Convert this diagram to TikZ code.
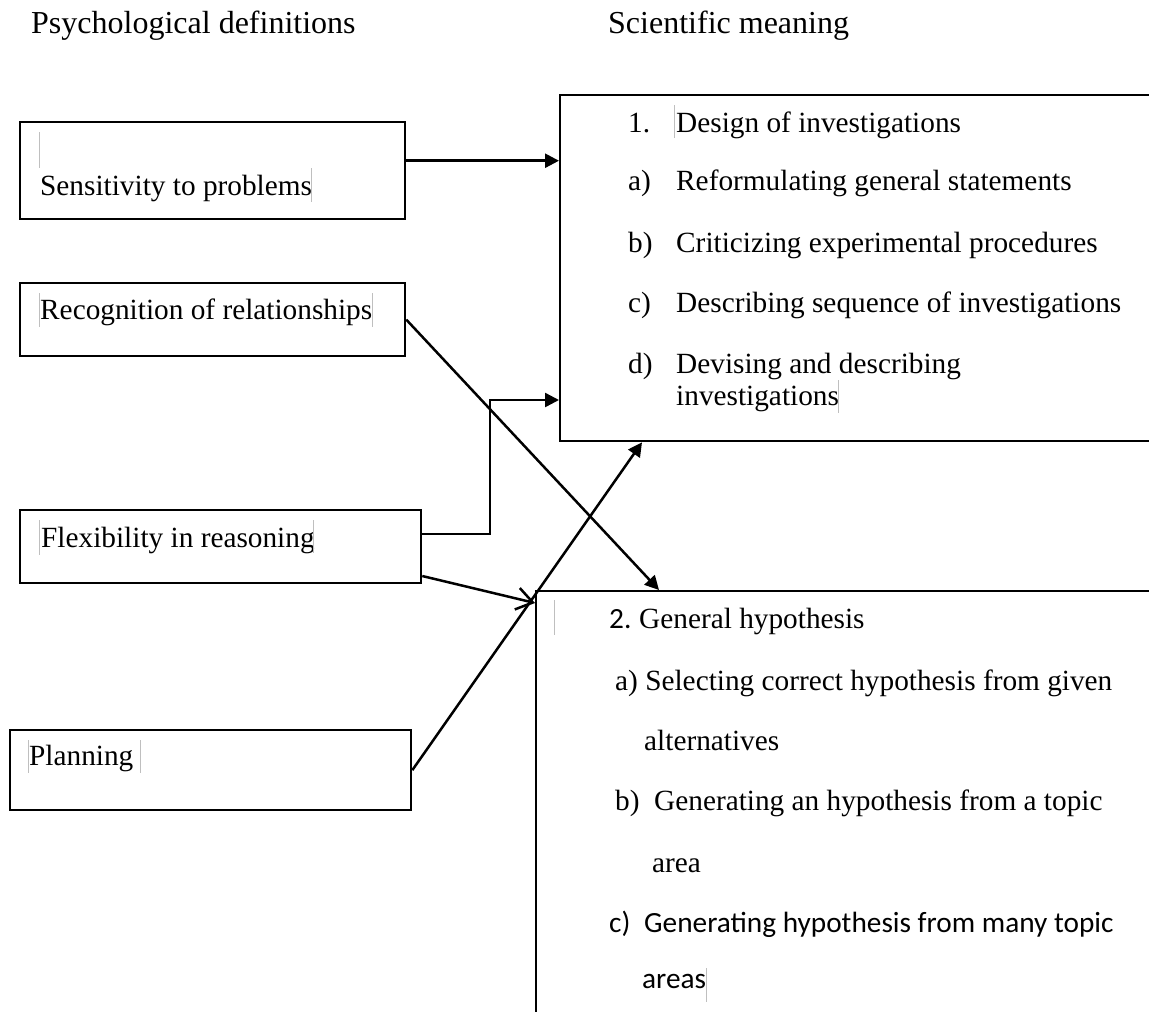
\documentclass[tikz,border=0pt]{standalone}
\usepackage{fontspec}
\setmainfont{Liberation Serif}
\newfontfamily\calibri{Carlito}
\usetikzlibrary{arrows.meta,calc}
\begin{document}
\begin{tikzpicture}[x=1pt,y=-1pt,
  box/.style={draw, line width=2.3pt, rectangle, inner sep=0pt, anchor=north west},
  txt/.style={anchor=base west, inner sep=0pt, font=\fontsize{29.3}{35}\selectfont},
  hdr/.style={anchor=base west, inner sep=0pt, font=\fontsize{32}{38}\selectfont},
  conn/.style={line width=2.5pt, -{Triangle[length=14pt,width=14pt]}},
  openconn/.style={line width=2.5pt, -{Straight Barb[length=16pt,width=22pt]}},
  cursorline/.style={draw=black!25, line width=0.8pt}
]
\useasboundingbox (0,0) rectangle (1149,1012);
\fill[white] (0,0) rectangle (1149,1012);
\clip (0,0) rectangle (1149,1012);

% boxes
\node[box, minimum width=385pt, minimum height=97pt] (s) at (19,121) {};
\node[box, minimum width=385pt, minimum height=73pt] (r) at (19,282) {};
\node[box, minimum width=401pt, minimum height=73pt] (f) at (19,509) {};
\node[box, minimum width=401pt, minimum height=80pt] (p) at (9,729) {};
\node[box, minimum width=700pt, minimum height=346pt] (d1) at (559,94) {};
\node[box, minimum width=700pt, minimum height=500pt] (d2) at (535,590) {};

% headers
\node[hdr] (h1) at (31,33) {Psychological definitions};
\node[hdr] (h2) at (608,33) {Scientific meaning};

% left texts
\node[txt] (ts) at (40,195) {Sensitivity to problems};
\node[txt] (tr) at (40,319) {Recognition of relationships};
\node[txt] (tf) at (41,547) {Flexibility in reasoning};
\node[txt] (tp) at (29,765) {Planning};

% box 1 texts
\node[txt] (n1) at (628,132) {1.};
\node[txt] (t1) at (676,132) {Design of investigations};
\node[txt] (na) at (628,190) {a)};
\node[txt] (ta) at (676,190) {Reformulating general statements};
\node[txt] (nb) at (628,252) {b)};
\node[txt] (tb) at (676,252) {Criticizing experimental procedures};
\node[txt] (nc) at (628,312) {c)};
\node[txt] (tc) at (676,312) {Describing sequence of investigations};
\node[txt] (nd) at (628,373) {d)};
\node[txt] (td) at (676,373) {Devising and describing};
\node[txt] (td2) at (676,405) {investigations};

% box 2 texts
\node[txt] (n2) at (609,628) {\calibri 2.};
\node[txt] (t2) at (639,628) {General hypothesis};
\node[txt] (t2a) at (615,690) {a) Selecting correct hypothesis from given};
\node[txt] (t2a2) at (644,750) {alternatives};
\node[txt] (n2b) at (615,810) {b)};
\node[txt] (t2b) at (654,810) {Generating an hypothesis from a topic};
\node[txt] (t2b2) at (652,872) {area};
\node[txt] (n2c) at (609,932) {\calibri c)};
\node[txt] (t2c) at (644,932) {\calibri Generating hypothesis from many topic};
\node[txt] (t2c2) at (642,988) {\calibri areas};

% cursor marks
\draw[cursorline] (39,132) -- (39,168);
\draw[cursorline] (311,168) -- (311,202);
\draw[cursorline] (39,293) -- (39,327);
\draw[cursorline] (372,293) -- (372,327);
\draw[cursorline] (674,105) -- (674,138);
\draw[cursorline] (838,380) -- (838,413);
\draw[cursorline] (39,520) -- (39,555);
\draw[cursorline] (313,520) -- (313,553);
\draw[cursorline] (28,740) -- (28,773);
\draw[cursorline] (140,740) -- (140,773);
\draw[cursorline] (554,600) -- (554,635);
\draw[cursorline] (706,968) -- (706,1002);

% connectors
\coordinate (sA) at ($(s.north east)!0.4!(s.south east)$);
\coordinate (fA) at ($(f.north east)!0.33!(f.south east)$);
\coordinate (fB) at ($(f.north east)!0.89!(f.south east)$);
\coordinate (el) at (490,400);
\draw[conn] (sA) -- (sA -| d1.west);
\draw[conn] (fA) -| (el) -- (el -| d1.west);
\draw[conn] (r.east) -- ($(d2.north west)+(124,0)$);
\draw[openconn] (fB) -- ($(d2.north west)+(0,13)$);
\draw[conn] (p.east) -- ($(d1.south west)+(83,0)$);
\end{tikzpicture}
\end{document}
